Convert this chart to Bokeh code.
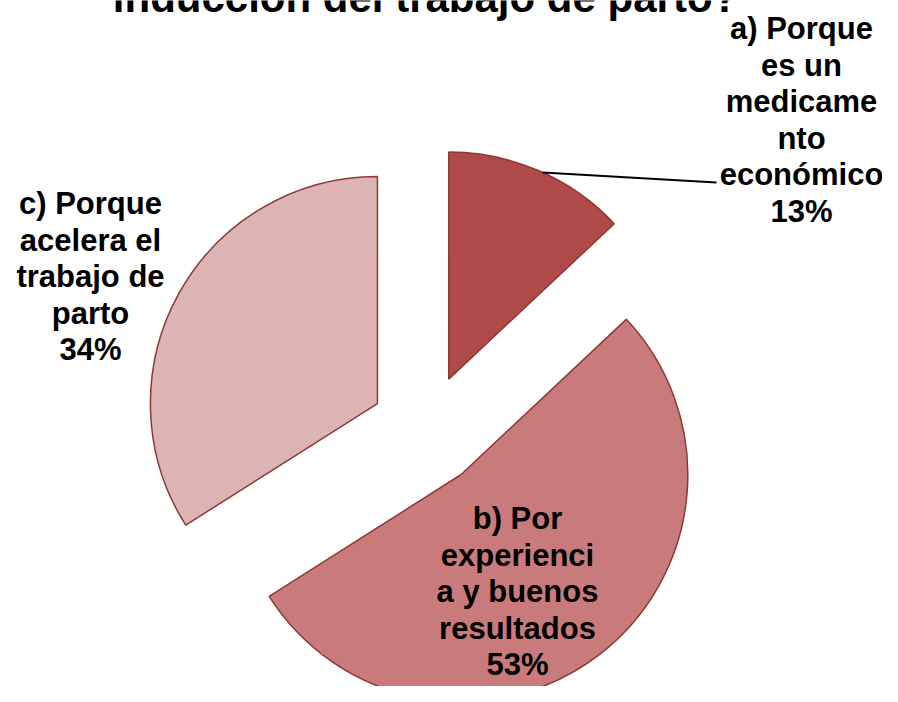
import math
from bokeh.plotting import figure
from bokeh.models import Range1d, ColumnDataSource
from bokeh.core.properties import value
from bokeh.embed import file_html
from bokeh.resources import INLINE

# ---- data ----
categories = ["a", "b", "c"]
values = [13, 53, 34]
label_lines = [
    ["a) Porque", "es un", "medicame", "nto", "económico"],
    ["b) Por", "experienci", "a y buenos", "resultados"],
    ["c) Porque", "acelera el", "trabajo de", "parto"],
]
pct_labels = ["13%", "53%", "34%"]
colors = ["#B04A48", "#C97B7B", "#DDB4B4"]
edge_color = "#8C3836"
title_text = "inducción del trabajo de parto?"

# ---- layout (canvas pixel coordinates; y data = H - pixel y) ----
W, H = 882, 686
def Y(py):
    return H - py

cx, cy = 426, Y(430)
R = 227
EXPLODE = 56
FONT = "Liberation Sans"
label_anchor = [(801, 28), (517, 518), (90, 203)]
LINE_STEP = 36.5

p = figure(width=W, height=H, output_backend="svg", toolbar_location=None,
           x_range=Range1d(0, W), y_range=Range1d(0, H), min_border=0)
p.axis.visible = False
p.grid.visible = False
p.outline_line_color = None
p.background_fill_color = "white"

total = float(sum(values))
start = 90.0
xs, ys, sa, ea, bis_list = [], [], [], [], []
for v in values:
    a0 = start
    a1 = start - v / total * 360.0
    bis = math.radians((a0 + a1) / 2)
    xs.append(cx + EXPLODE * math.cos(bis))
    ys.append(cy + EXPLODE * math.sin(bis))
    sa.append(math.radians(a1))
    ea.append(math.radians(a0))
    bis_list.append(bis)
    start = a1

src = ColumnDataSource(dict(x=xs, y=ys, start=sa, end=ea, color=colors, cat=categories, val=values))
p.wedge(x="x", y="y", radius=R, start_angle="start", end_angle="end",
        fill_color="color", line_color=edge_color, line_width=1.5, source=src)

# leader line for slice a
lx0 = xs[0] + R * math.cos(bis_list[0] - math.radians(1))
ly0 = ys[0] + R * math.sin(bis_list[0] - math.radians(1))
p.line(x=[lx0, 716], y=[ly0, Y(182)], line_color="black", line_width=2)

# labels
tx, ty, tt = [], [], []
for i in range(len(values)):
    lines = label_lines[i] + [pct_labels[i]]
    ax, ay = label_anchor[i]
    for k, ln in enumerate(lines):
        tx.append(ax)
        ty.append(Y(ay + k * LINE_STEP))
        tt.append(ln)
p.text(x=tx, y=ty, text=tt, text_align="center", text_baseline="middle",
       text_font=value(FONT), text_font_style="bold", text_font_size="31px",
       text_color="black")

# title (its upper part lies above the canvas, as in the reference)
p.text(x=[425], y=[Y(-3)], text=[title_text], text_align="center",
       text_baseline="alphabetic", text_font=value(FONT), text_font_style="bold",
       text_font_size="42px", text_color="black")

open("out.html", "w").write(file_html(p, INLINE))
